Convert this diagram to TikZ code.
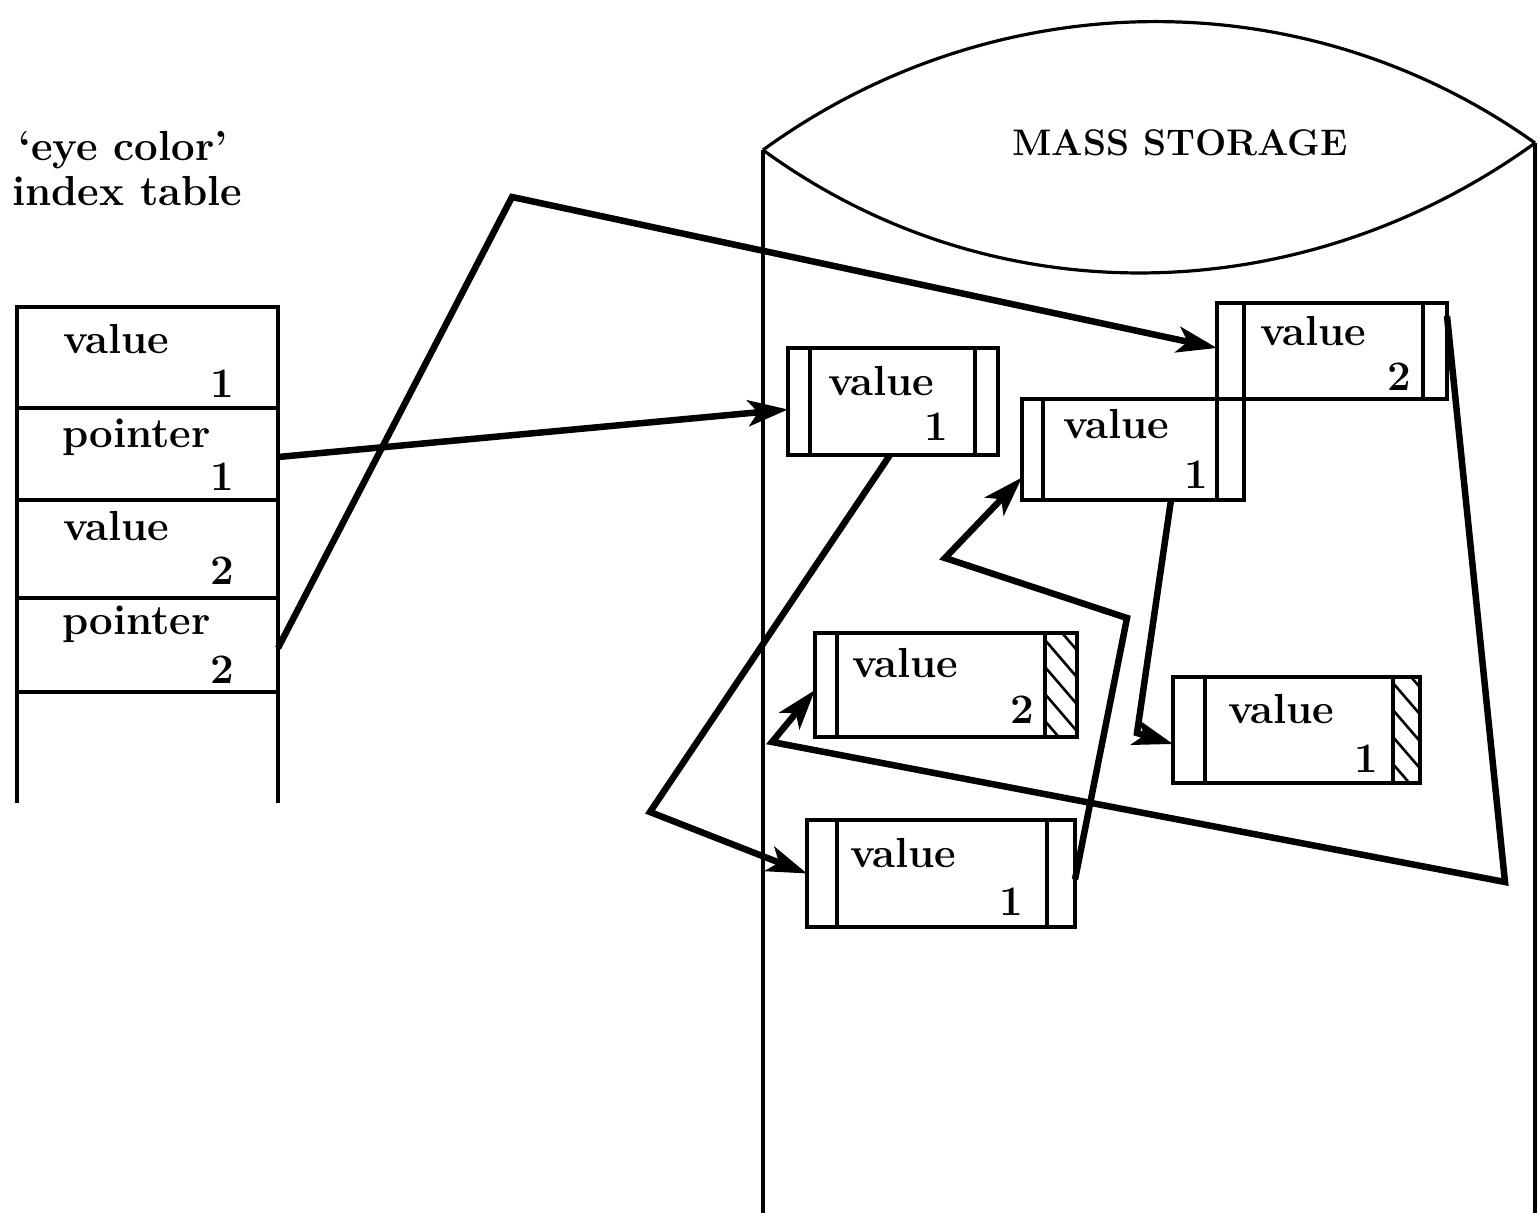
\documentclass[tikz,border=0pt]{standalone}
\usepackage{fontspec}
\usetikzlibrary{arrows.meta,calc}
\begin{document}
\begin{tikzpicture}[x=1pt,y=-1pt,
  frame/.style={line width=3.2pt},
  rec/.style={draw, line width=3.4pt, fill=white, rectangle, inner sep=0pt, outer sep=0pt},
  rowbox/.style={draw, line width=3.2pt, rectangle, inner sep=0pt, outer sep=0pt},
  arr/.style={line width=6.5pt, line join=miter, -{Stealth[length=40pt,width=26pt,inset=10pt]}},
  txt/.style={font=\fontsize{42}{50}\selectfont\bfseries, inner sep=0pt},
  hatch/.style={line width=2.6pt}]
\useasboundingbox (0,0) rectangle (1540,1213);

% cylinder
\coordinate (cl) at (763,150);
\coordinate (cr) at (1535,143);
\draw[frame] (cl) .. controls (994,-18) and (1304,-22) .. (cr);
\draw[frame] (cl) .. controls (996,320) and (1304,310) .. (cr);
\draw[frame] (cl) -- (763,1213);
\draw[frame] (cr) -- (1535,1213);
\node[font=\fontsize{37}{44}\selectfont\bfseries, inner sep=0pt] (ms) at (1180,143) {MASS STORAGE};

% title
\node[txt, anchor=base west] (t1) at (18,160) {‘eye color’};
\node[txt, anchor=base west] (t2) at (12,205) {index table};

% index table
\node[rowbox, minimum width=261pt, minimum height=101pt] (r1) at (147.5,357.5) {};
\node[rowbox, minimum width=261pt, minimum height=92pt] (r2) at (147.5,454) {};
\node[rowbox, minimum width=261pt, minimum height=98pt] (r3) at (147.5,549) {};
\node[rowbox, minimum width=261pt, minimum height=94pt] (r4) at (147.5,645) {};
\draw[frame] (r4.south west) -- ++(0,111);
\draw[frame] (r4.south east) -- ++(0,111);
\node[txt, anchor=base west] (r1w) at (63,353) {value};
\node[txt, anchor=base east] (r1d) at (234,397) {1};
\node[txt, anchor=base west] (r2w) at (62,447) {pointer};
\node[txt, anchor=base east] (r2d) at (234,490) {1};
\node[txt, anchor=base west] (r3w) at (63,540) {value};
\node[txt, anchor=base east] (r3d) at (234,584) {2};
\node[txt, anchor=base west] (r4w) at (62,634) {pointer};
\node[txt, anchor=base east] (r4d) at (234,683) {2};

% records
\node[rec, minimum width=210pt, minimum height=107pt] (A) at (893,401.5) {};
\node[rec, minimum width=230pt, minimum height=96pt] (B) at (1332,351) {};
\node[rec, minimum width=222pt, minimum height=101pt] (C) at (1133,449.5) {};
\node[rec, minimum width=262pt, minimum height=104pt] (D) at (946,685) {};
\node[rec, minimum width=247pt, minimum height=106pt] (E) at (1296.5,730) {};
\node[rec, minimum width=268pt, minimum height=107pt] (F) at (941,873.5) {};

% strips
\draw[frame] ([xshift=22pt]A.north west) -- ([xshift=22pt]A.south west);
\draw[frame] ([xshift=-23pt]A.north east) -- ([xshift=-23pt]A.south east);
\draw[frame] ([xshift=27pt]B.north west) -- ([xshift=27pt]B.south west);
\draw[frame] ([xshift=-24pt]B.north east) -- ([xshift=-24pt]B.south east);
\draw[frame] ([xshift=21pt]C.north west) -- ([xshift=21pt]C.south west);
\draw[frame] ([xshift=-27pt]C.north east) -- ([xshift=-27pt]C.south east);
\draw[frame] ([xshift=22pt]D.north west) -- ([xshift=22pt]D.south west);
\draw[frame] ([xshift=-32pt]D.north east) -- ([xshift=-32pt]D.south east);
\draw[frame] ([xshift=32pt]E.north west) -- ([xshift=32pt]E.south west);
\draw[frame] ([xshift=-27pt]E.north east) -- ([xshift=-27pt]E.south east);
\draw[frame] ([xshift=30pt]F.north west) -- ([xshift=30pt]F.south west);
\draw[frame] ([xshift=-28pt]F.north east) -- ([xshift=-28pt]F.south east);

% hatching
\begin{scope}
\clip ([xshift=-32pt]D.north east) rectangle (D.south east);
\foreach \k in {-2,...,4} \draw[hatch] ($([xshift=-32pt]D.north east)+(0,{27*\k+7})$) -- ++(36,42);
\end{scope}
\begin{scope}
\clip ([xshift=-27pt]E.north east) rectangle (E.south east);
\foreach \k in {-2,...,4} \draw[hatch] ($([xshift=-27pt]E.north east)+(0,{27*\k+6})$) -- ++(31,36);
\end{scope}

% record texts
\node[txt, anchor=base west] (Aw) at (828,395) {value};
\node[txt, anchor=base east] (Ad) at (948,440) {1};
\node[txt, anchor=base west] (Bw) at (1260,345) {value};
\node[txt, anchor=base east] (Bd) at (1411,390) {2};
\node[txt, anchor=base west] (Cw) at (1063,438) {value};
\node[txt, anchor=base east] (Cd) at (1208,488) {1};
\node[txt, anchor=base west] (Dw) at (852,677) {value};
\node[txt, anchor=base east] (Dd) at (1034,723) {2};
\node[txt, anchor=base west] (Ew) at (1228,723) {value};
\node[txt, anchor=base east] (Ed) at (1378,772) {1};
\node[txt, anchor=base west] (Fw) at (850,867) {value};
\node[txt, anchor=base east] (Fd) at (1023,915) {1};

% bend points
\coordinate (c2) at (512,197);
\coordinate (c3) at (650,812);
\coordinate (c4a) at (1127,618);
\coordinate (c4b) at (945,558);
\coordinate (c5) at (1137,733);
\coordinate (c6a) at (1505,882);
\coordinate (c6b) at (772,742);

% connectors
\draw[arr] ([yshift=-3pt]r2.east) -- ([yshift=-8pt]A.west);
\draw[arr] ([yshift=-3pt]r4.east) -- (c2) -- ([yshift=3pt]B.west);
\draw[arr] ([xshift=-3pt]A.south) -- (c3) -- (F.west);
\draw[arr] ([yshift=-6pt]F.east) -- (c4a) -- (c4b) -- ([yshift=-28pt]C.west);
\draw[arr] ([xshift=38pt]C.south) -- (c5) -- ([yshift=-14pt]E.west);
\draw[arr] ([yshift=35pt]B.east) -- (c6a) -- (c6b) -- ([yshift=-5pt]D.west);
\end{tikzpicture}
\end{document}
